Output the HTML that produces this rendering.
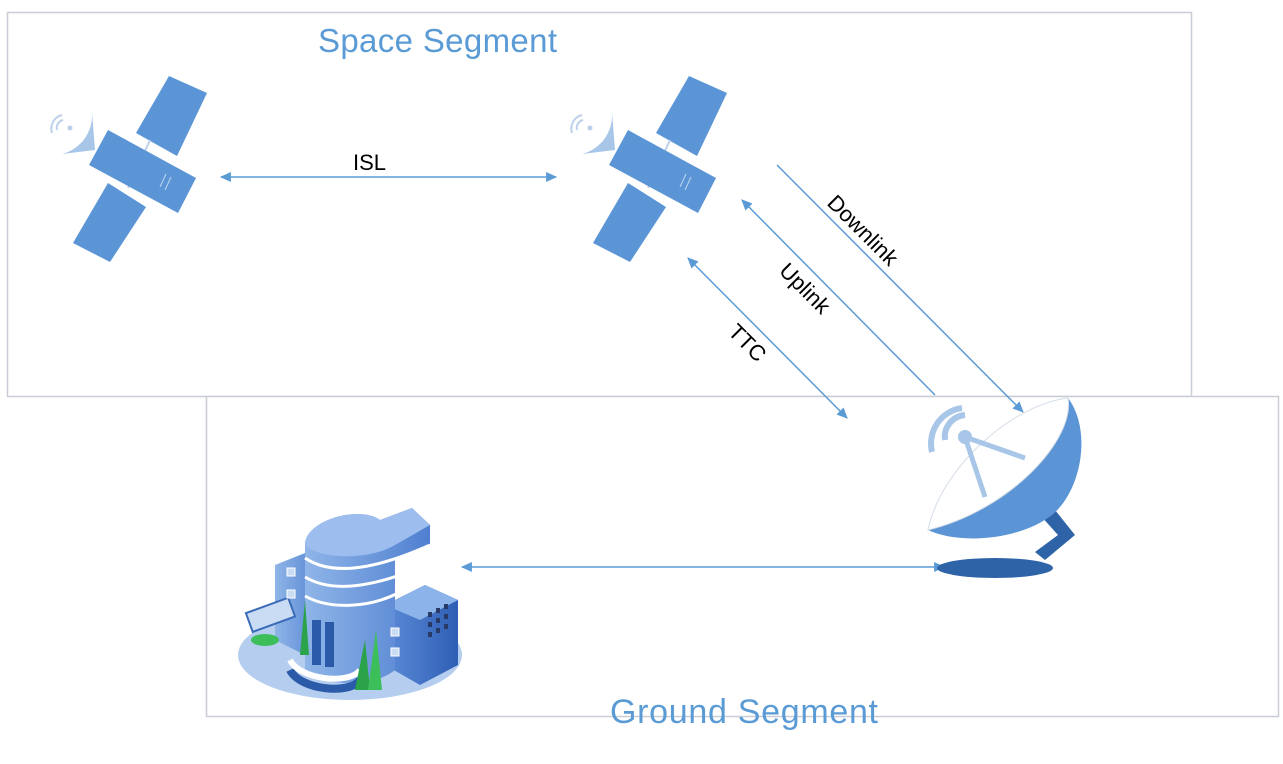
<!DOCTYPE html>
<html><head><meta charset="utf-8"><style>
body{margin:0;background:#fff;width:1283px;height:759px;overflow:hidden;font-family:"Liberation Sans",sans-serif}
</style></head><body>
<svg width="1283" height="759" viewBox="0 0 1283 759" xmlns="http://www.w3.org/2000/svg">
<defs>
<marker id="ah" viewBox="0 0 10 10" refX="9" refY="5" markerWidth="12" markerHeight="11" orient="auto-start-reverse" markerUnits="userSpaceOnUse"><path d="M0,0.5 L10,5 L0,9.5 Z" fill="#5b9bd5"/></marker>
<linearGradient id="bg1" x1="0" x2="1"><stop offset="0" stop-color="#8fb5e8"/><stop offset="1" stop-color="#4f7fd0"/></linearGradient>
<linearGradient id="bg2" x1="0" x2="1"><stop offset="0" stop-color="#5c8bd8"/><stop offset="1" stop-color="#2f5fb5"/></linearGradient>
</defs>
<rect x="7.5" y="12.5" width="1184" height="384" fill="#fff" stroke="#c9ced6" stroke-width="1.5"/>
<rect x="206.5" y="396.5" width="1072" height="320" fill="#fff" stroke="#c9ced6" stroke-width="1.5"/>
<text x="318" y="52" font-size="33" fill="#5b9bd5" textLength="239">Space Segment</text>
<text x="610" y="723" font-size="34" fill="#5b9bd5" textLength="268">Ground Segment</text>

<g id="sat">
<path d="M62,154 A40,40 0 0 0 92,112 L95,150 Z" fill="#a8c6e8"/>
<path d="M57,130 a8,8 0 0 1 6,-10 M52,133 a14,14 0 0 1 10,-18" stroke="#bcd0ea" stroke-width="2" fill="none"/>
<circle cx="70" cy="128" r="2.5" fill="#bcd0ea"/>
<polygon points="169,76 207,93 177,156 136,133" fill="#5b95d5"/>
<polygon points="108,183 146,207 110,262 73,243" fill="#5b95d5"/>
<line x1="150" y1="140" x2="128" y2="188" stroke="#bcd0ea" stroke-width="2"/>
<polygon points="108,130 196,178 178,213 89,165" fill="#5b95d5"/>
<line x1="160" y1="187" x2="166" y2="174" stroke="#bcd5f0" stroke-width="1"/>
<line x1="165" y1="190" x2="171" y2="177" stroke="#bcd5f0" stroke-width="1"/>
</g>
<use href="#sat" transform="translate(520,0)"/>

<g stroke="#5b9bd5" stroke-width="1.5" fill="none">
<line x1="221" y1="177" x2="556" y2="177" marker-start="url(#ah)" marker-end="url(#ah)"/>
<line x1="777" y1="165" x2="1023" y2="412" marker-end="url(#ah)"/>
<line x1="935" y1="395" x2="742" y2="200" marker-end="url(#ah)"/>
<line x1="688" y1="258" x2="847" y2="418" marker-start="url(#ah)" marker-end="url(#ah)"/>
<line x1="462" y1="567" x2="944" y2="567" marker-start="url(#ah)" marker-end="url(#ah)"/>
</g>
<g font-size="22" fill="#000">
<text x="353" y="170">ISL</text>
<text transform="translate(826,204) rotate(45)">Downlink</text>
<text transform="translate(778,272) rotate(45)">Uplink</text>
<text transform="translate(727,333) rotate(45)">TTC</text>
</g>

<!-- dish -->
<g>
<ellipse cx="995" cy="568" rx="58" ry="10" fill="#2f63a8"/>
<path d="M1045,560 L1075,535 L1055,510 L1040,515 L1058,535 L1035,552 Z" fill="#2f63a8"/>
<path d="M928,530 C955,470 1020,405 1068,398 C1092,430 1082,490 1052,515 C1020,540 960,545 928,530 Z" fill="#5b95d5"/>
<path d="M928,530 C940,470 1010,405 1068,398 C1075,440 1010,510 928,530 Z" fill="#fff" stroke="#d5dde8"/>
<line x1="965" y1="437" x2="985" y2="497" stroke="#a8c6e8" stroke-width="5"/>
<line x1="965" y1="437" x2="1025" y2="458" stroke="#a8c6e8" stroke-width="5"/>
<circle cx="965" cy="437" r="7" fill="#a8c6e8"/>
<path d="M945,440 a22,22 0 0 1 20,-25 M932,452 a36,36 0 0 1 30,-44" stroke="#a8c6e8" stroke-width="6" fill="none"/>
</g>

<!-- building -->
<g>
<ellipse cx="350" cy="655" rx="112" ry="45" fill="#b5cdee"/>
<polygon points="275,565 325,545 325,665 275,640" fill="url(#bg1)"/>
<polygon points="385,605 425,585 458,600 458,665 420,685 385,665" fill="url(#bg2)"/>
<polygon points="385,605 425,585 458,600 420,620" fill="#8db4ea"/>
<path d="M305,545 C305,520 360,505 380,520 L412,508 L430,525 L430,545 L395,560 L395,670 C370,690 320,685 305,670 Z" fill="url(#bg1)"/>
<path d="M305,545 C305,520 360,505 380,520 L412,508 L430,525 L395,545 C370,560 320,560 305,545 Z" fill="#9cbdee"/>
<path d="M305,558 C330,575 370,572 430,545 M305,577 C330,592 370,590 430,563 M305,596 C330,610 370,608 400,592" stroke="#fff" stroke-width="3" fill="none"/>
<rect x="312" y="620" width="9" height="45" fill="#2a5aa8"/><rect x="325" y="622" width="9" height="45" fill="#2a5aa8"/>
<path d="M290,670 C300,690 350,695 360,680" stroke="#2a5aa8" stroke-width="8" fill="none"/>
<path d="M290,660 C300,680 350,685 360,670" stroke="#fff" stroke-width="6" fill="none"/>
<polygon points="300,655 305,600 309,655" fill="#2aa34a"/>
<polygon points="355,690 365,640 370,690" fill="#2aa34a"/>
<polygon points="368,690 376,630 382,690" fill="#3cbf5a"/>
<rect x="248" y="605" width="45" height="20" fill="#c9dcf4" stroke="#3a6ab8" stroke-width="2" transform="rotate(-20 270 615)"/>
<ellipse cx="265" cy="640" rx="14" ry="6" fill="#3cbf5a"/>
<g fill="#2a3a66"><rect x="428" y="612" width="4" height="5"/><rect x="436" y="608" width="4" height="5"/><rect x="444" y="604" width="4" height="5"/><rect x="428" y="622" width="4" height="5"/><rect x="436" y="618" width="4" height="5"/><rect x="444" y="614" width="4" height="5"/><rect x="428" y="632" width="4" height="5"/><rect x="436" y="628" width="4" height="5"/><rect x="444" y="624" width="4" height="5"/></g>
<rect x="287" y="568" width="8" height="8" fill="#c9dcf4" stroke="#fff"/><rect x="287" y="590" width="8" height="8" fill="#c9dcf4" stroke="#fff"/>
<rect x="391" y="628" width="8" height="8" fill="#c9dcf4" stroke="#fff"/><rect x="391" y="648" width="8" height="8" fill="#c9dcf4" stroke="#fff"/>
</g>
</svg>
</body></html>
